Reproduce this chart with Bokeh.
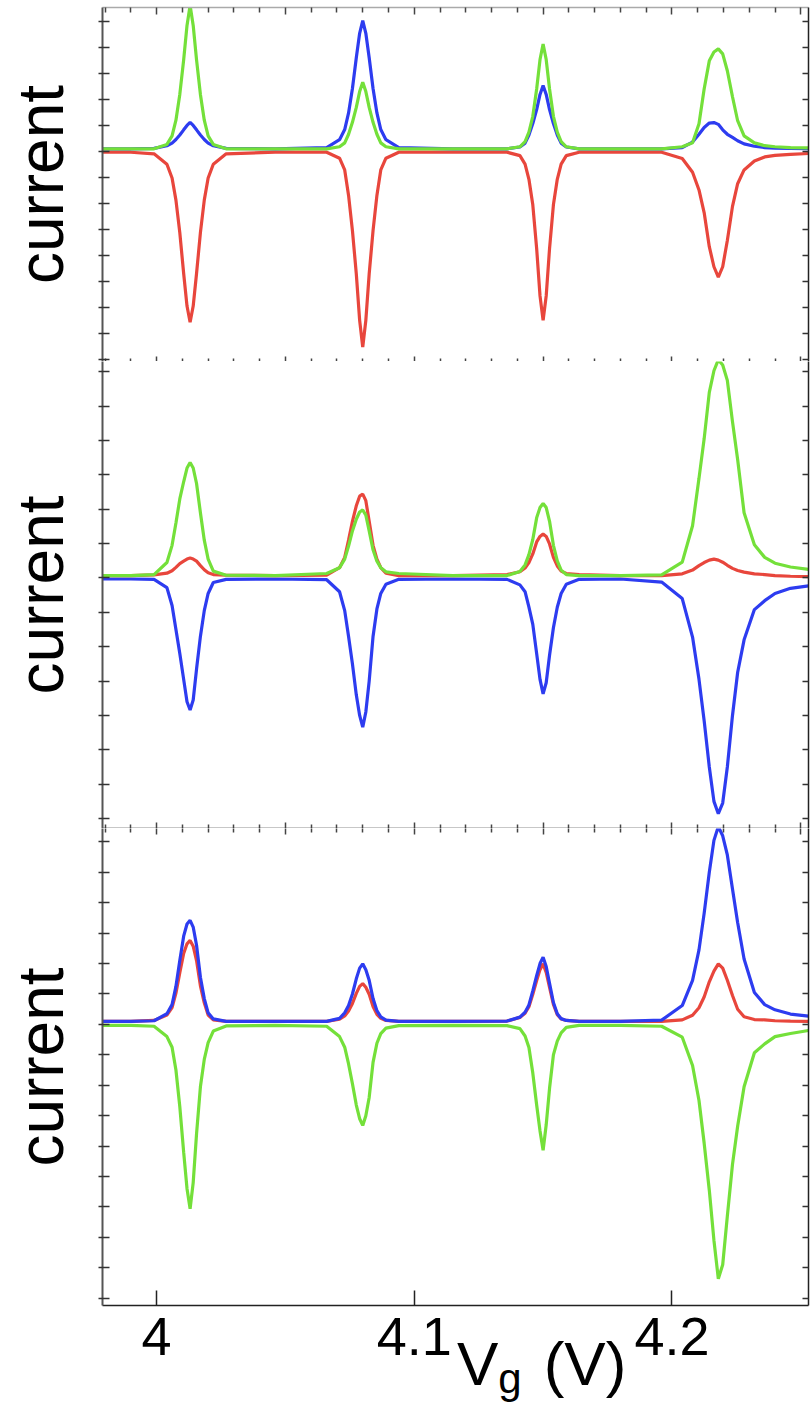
from bokeh.plotting import figure
from bokeh.models import Range1d, LinearAxis, FixedTicker, CustomJSTickFormatter, Div
from bokeh.layouts import column
from bokeh.embed import file_html
from bokeh.resources import INLINE

# ---------------- data ----------------
VG = [3.979, 3.99,
      3.999, 4.004, 4.006, 4.0075, 4.009, 4.0105, 4.0118, 4.013, 4.0142, 4.0155, 4.017, 4.0185, 4.020, 4.022, 4.027,
      4.046,
      4.066, 4.071, 4.073, 4.0745, 4.076, 4.0775, 4.0788, 4.080, 4.0812, 4.0825, 4.084, 4.0855, 4.087, 4.089, 4.094,
      4.115,
      4.136, 4.141, 4.143, 4.1445, 4.146, 4.1475, 4.1488, 4.150, 4.1512, 4.1525, 4.154, 4.1555, 4.157, 4.159, 4.164,
      4.18,
      4.196, 4.204, 4.208, 4.2105, 4.2125, 4.2145, 4.2163, 4.218, 4.2197, 4.2215, 4.2235, 4.2255, 4.228, 4.232,
      4.236, 4.240, 4.246, 4.253]

# panel 1
P1_RED = [-0.04, -0.04,
          -0.1, -0.5, -1.03, -1.88, -3.13, -4.7, -5.95, -6.57, -5.95, -4.7, -3.13, -1.88, -1.03, -0.5, -0.1,
          -0.04,
          -0.04, -0.27, -0.72, -1.7, -3.05, -4.71, -6.5, -7.53, -6.5, -4.71, -3.05, -1.7, -0.72, -0.27, -0.04,
          -0.04,
          -0.04, -0.17, -0.5, -1.08, -2.06, -3.74, -5.56, -6.5, -5.56, -3.74, -2.06, -1.08, -0.5, -0.17, -0.04,
          -0.04,
          -0.04, -0.28, -0.81, -1.49, -2.36, -3.67, -4.44, -4.84, -4.44, -3.43, -2.12, -1.25, -0.72, -0.38,
          -0.22, -0.16, -0.12, -0.09]
P1_BLUE = [0.09, 0.09,
           0.11, 0.21, 0.31, 0.45, 0.62, 0.82, 0.99, 1.11, 0.99, 0.82, 0.62, 0.45, 0.31, 0.21, 0.11,
           0.09,
           0.14, 0.44, 0.83, 1.47, 2.41, 3.59, 4.53, 5.02, 4.53, 3.59, 2.41, 1.47, 0.83, 0.44, 0.14,
           0.09,
           0.09, 0.16, 0.31, 0.62, 1.06, 1.6, 2.18, 2.52, 2.18, 1.6, 1.06, 0.62, 0.31, 0.16, 0.09,
           0.09,
           0.09, 0.14, 0.35, 0.65, 0.91, 1.08, 1.1, 1.03, 0.82, 0.65, 0.53, 0.40, 0.28, 0.19,
           0.14, 0.12, 0.11, 0.1]
P1_GREEN = [0.09, 0.09,
            0.09, 0.26, 0.59, 1.19, 2.18, 3.51, 4.83, 5.6, 4.83, 3.51, 2.18, 1.19, 0.59, 0.26, 0.09,
            0.09,
            0.09, 0.17, 0.32, 0.65, 1.11, 1.68, 2.29, 2.65, 2.29, 1.68, 1.11, 0.65, 0.32, 0.17, 0.09,
            0.09,
            0.09, 0.17, 0.37, 0.73, 1.34, 2.39, 3.52, 4.12, 3.52, 2.39, 1.34, 0.73, 0.37, 0.17, 0.09,
            0.09,
            0.09, 0.17, 0.32, 1.05, 2.39, 3.47, 3.81, 3.93, 3.74, 3.09, 2.09, 1.17, 0.59, 0.32,
            0.21, 0.17, 0.14, 0.13]

# panel 2
P2_GREEN = [0.07, 0.07,
            0.1, 0.45, 0.95, 1.6, 2.3, 2.8, 3.2, 3.36, 3.2, 2.75, 1.9, 1.1, 0.55, 0.2, 0.08,
            0.07,
            0.13, 0.3, 0.55, 0.93, 1.37, 1.71, 1.92, 1.98, 1.83, 1.37, 0.82, 0.49, 0.3, 0.18, 0.13,
            0.07,
            0.07, 0.19, 0.38, 0.68, 1.12, 1.75, 2.05, 2.17, 2.05, 1.65, 0.95, 0.5, 0.23, 0.1, 0.07,
            0.07,
            0.09, 0.46, 1.52, 2.9, 4.05, 5.4, 6.03, 6.35, 6.2, 5.75, 4.55, 3.45, 1.9, 0.97,
            0.6, 0.43, 0.32, 0.25]
P2_RED = [0.07, 0.07,
          0.09, 0.14, 0.21, 0.31, 0.42, 0.49, 0.55, 0.58, 0.55, 0.49, 0.36, 0.24, 0.15, 0.1, 0.08,
          0.07,
          0.08, 0.3, 0.6, 1.1, 1.65, 2.1, 2.38, 2.44, 2.25, 1.65, 0.95, 0.55, 0.3, 0.14, 0.07,
          0.07,
          0.1, 0.18, 0.29, 0.45, 0.7, 1.05, 1.21, 1.28, 1.21, 0.99, 0.6, 0.35, 0.2, 0.13, 0.1,
          0.07,
          0.07, 0.12, 0.23, 0.36, 0.45, 0.52, 0.55, 0.52, 0.46, 0.37, 0.28, 0.22, 0.17, 0.12,
          0.1, 0.07, 0.05, 0.04]
P2_BLUE = [-0.03, -0.03,
           -0.04, -0.28, -0.8, -1.5, -2.2, -2.95, -3.6, -3.84, -3.55, -2.65, -1.7, -0.95, -0.45, -0.13, -0.04,
           -0.03,
           -0.05, -0.4, -0.95, -1.7, -2.5, -3.4, -4.0, -4.34, -3.9, -3.0, -1.7, -0.9, -0.45, -0.18, -0.04,
           -0.03,
           -0.04, -0.2, -0.4, -0.85, -1.35, -2.2, -2.95, -3.37, -3.05, -2.25, -1.45, -0.85, -0.45, -0.18, -0.04,
           -0.03,
           -0.12, -0.6, -1.72, -2.95, -4.15, -5.5, -6.5, -6.86, -6.55, -5.5, -4.0, -2.75, -1.8, -0.92,
           -0.66, -0.45, -0.3, -0.23]

# panel 3
P3_GREEN = [-0.03, -0.03,
            -0.06, -0.4, -0.75, -1.5, -2.7, -4.2, -5.4, -6.06, -5.2, -3.6, -2.05, -1.15, -0.6, -0.22, -0.05,
            -0.03,
            -0.06, -0.4, -0.75, -1.3, -1.95, -2.65, -3.1, -3.32, -3.0, -2.4, -1.25, -0.62, -0.3, -0.12, -0.04,
            -0.03,
            -0.04, -0.14, -0.38, -0.76, -1.6, -2.65, -3.5, -4.14, -3.3, -2.1, -1.0, -0.55, -0.28, -0.1, -0.03,
            -0.03,
            -0.06, -0.42, -1.35, -2.5, -3.9, -5.45, -7.1, -8.36, -7.9, -6.3, -4.6, -3.35, -2.05, -0.93,
            -0.64, -0.4, -0.3, -0.2]
P3_RED = [0.1, 0.1,
          0.13, 0.31, 0.55, 1.03, 1.7, 2.33, 2.65, 2.76, 2.57, 2.1, 1.27, 0.71, 0.31, 0.15, 0.1,
          0.1,
          0.1, 0.17, 0.28, 0.44, 0.69, 1.02, 1.25, 1.34, 1.22, 0.99, 0.59, 0.33, 0.2, 0.13, 0.1,
          0.1,
          0.11, 0.23, 0.37, 0.58, 0.99, 1.44, 1.8, 1.99, 1.71, 1.22, 0.66, 0.32, 0.18, 0.13, 0.1,
          0.1,
          0.1, 0.15, 0.3, 0.55, 0.9, 1.4, 1.75, 1.99, 1.85, 1.45, 0.95, 0.5, 0.25, 0.16,
          0.15, 0.12, 0.11, 0.1]
P3_BLUE = [0.1, 0.1,
           0.12, 0.35, 0.65, 1.25, 2.1, 2.9, 3.3, 3.42, 3.2, 2.6, 1.55, 0.85, 0.38, 0.18, 0.1,
           0.1,
           0.1, 0.2, 0.38, 0.62, 1.0, 1.5, 1.85, 1.99, 1.8, 1.45, 0.85, 0.45, 0.25, 0.14, 0.1,
           0.1,
           0.11, 0.24, 0.4, 0.64, 1.1, 1.6, 2.0, 2.21, 1.9, 1.35, 0.72, 0.35, 0.19, 0.13, 0.1,
           0.1,
           0.14, 0.62, 1.45, 2.45, 3.65, 5.0, 6.05, 6.5, 6.2, 5.57, 4.45, 3.35, 2.15, 1.05,
           0.65, 0.48, 0.34, 0.27]

X_MAJOR = [3.95, 4.0, 4.05, 4.1, 4.15, 4.2, 4.25]
X_MINOR = [3.98, 3.99, 4.01, 4.02, 4.03, 4.04, 4.06, 4.07, 4.08, 4.09, 4.11, 4.12, 4.13,
           4.14, 4.16, 4.17, 4.18, 4.19, 4.21, 4.22, 4.23, 4.24]
XTICK_VALUES = [4.0, 4.1, 4.2]
XTICK_LABELS = ["4", "4.1", "4.2"]
Y_TICKS_1 = list(range(-8, 6))
Y_TICKS_2 = list(range(-7, 7))
Y_TICKS_3 = list(range(-9, 7))
Y_LABEL = "current"

RED = "#e8463c"
BLUE = "#2d3cf0"
GREEN = "#74e03a"
FONT = "Liberation Sans"
LW = 3.2


def blank_axis(ax):
    ax.formatter = CustomJSTickFormatter(code="return ''")
    ax.major_label_text_font_size = "0px"
    ax.major_label_standoff = 0
    ax.axis_label = None


def make_panel(yr, yticks, fh, top_border=0, bottom_border=0):
    p = figure(frame_width=706, frame_height=fh, x_range=Range1d(3.979, 4.253),
               y_range=Range1d(*yr), output_backend="svg", toolbar_location=None,
               x_axis_location=None, y_axis_location=None,
               min_border_left=102, min_border_right=4,
               min_border_top=top_border, min_border_bottom=bottom_border)
    p.grid.visible = False
    p.outline_line_color = None
    left = LinearAxis(ticker=FixedTicker(ticks=yticks, minor_ticks=[]))
    blank_axis(left)
    left.axis_label = Y_LABEL
    left.axis_label_text_font = FONT
    left.axis_label_text_font_size = "64px"
    left.axis_label_text_font_style = "normal"
    left.axis_label_text_color = "black"
    left.axis_label_standoff = 22
    left.axis_line_color = "#555555"
    left.axis_line_width = 2
    left.major_tick_in = 7
    left.major_tick_out = 4
    left.major_tick_line_color = "#333333"
    left.major_tick_line_width = 1.5
    p.add_layout(left, "left")
    right = LinearAxis(ticker=FixedTicker(ticks=yticks, minor_ticks=[]))
    blank_axis(right)
    right.axis_line_color = "#222222"
    right.axis_line_width = 1.5
    right.major_tick_in = 6
    right.major_tick_out = 0
    right.major_tick_line_color = "#333333"
    right.major_tick_line_width = 1.5
    p.add_layout(right, "right")
    return p


def tick_axis(p, side, line_color, tin):
    ax = LinearAxis(ticker=FixedTicker(ticks=X_MAJOR, minor_ticks=X_MINOR))
    blank_axis(ax)
    ax.axis_line_color = line_color
    ax.axis_line_width = 1.5
    ax.major_tick_in = tin + 2
    ax.major_tick_out = 0
    ax.minor_tick_in = tin
    ax.minor_tick_out = 0
    ax.major_tick_line_color = "#444444"
    ax.minor_tick_line_color = "#444444"
    ax.major_tick_line_width = 1.5
    ax.minor_tick_line_width = 1.5
    p.add_layout(ax, side)
    return ax


p1 = make_panel((-8.08, 5.52), Y_TICKS_1, 354, top_border=7)
tick_axis(p1, "above", "#aaaaaa", 5)
tick_axis(p1, "below", None, 3)
p1.line(VG, P1_RED, line_color=RED, line_width=LW)
p1.line(VG, P1_BLUE, line_color=BLUE, line_width=LW)
p1.line(VG, P1_GREEN, line_color=GREEN, line_width=LW)

p2 = make_panel((-7.29, 6.30), Y_TICKS_2, 467)
tick_axis(p2, "below", "#222222", 4)
p2.line(VG, P2_BLUE, line_color=BLUE, line_width=LW)
p2.line(VG, P2_RED, line_color=RED, line_width=LW)
p2.line(VG, P2_GREEN, line_color=GREEN, line_width=LW)

p3 = make_panel((-9.24, 6.44), Y_TICKS_3, 477, bottom_border=76)
tick_axis(p3, "above", None, 4)
bx = LinearAxis(ticker=FixedTicker(ticks=XTICK_VALUES, minor_ticks=[]))
bx.major_label_overrides = dict(zip(XTICK_VALUES, XTICK_LABELS))
bx.major_label_text_font = FONT
bx.major_label_text_font_size = "54px"
bx.major_label_text_color = "black"
bx.major_label_standoff = 12
bx.axis_line_color = "#222222"
bx.axis_line_width = 1.5
bx.major_tick_in = 15
bx.major_tick_out = 0
bx.major_tick_line_color = "#222222"
bx.major_tick_line_width = 1.5
p3.add_layout(bx, "below")
p3.line(VG, P3_GREEN, line_color=GREEN, line_width=LW)
p3.line(VG, P3_RED, line_color=RED, line_width=LW)
p3.line(VG, P3_BLUE, line_color=BLUE, line_width=LW)

# x-axis title "V_g (V)" as real HTML text, overlapping the tick-label band like the original
xtitle = Div(
    text=('<div style="position:relative; left:452px; top:-53px; white-space:nowrap; '
          'font-family:\'Liberation Sans\'; font-size:62px; line-height:62px; color:black;">'
          'V<span style="font-size:42px; position:relative; top:8px;">g</span>'
          '<span style="margin-left:22px;">(V)</span></div>'),
    width=812, height=21, styles={"overflow": "visible"})

layout = column(p1, p2, p3, xtitle, spacing=0)
open("out.html", "w").write(file_html(layout, INLINE))
